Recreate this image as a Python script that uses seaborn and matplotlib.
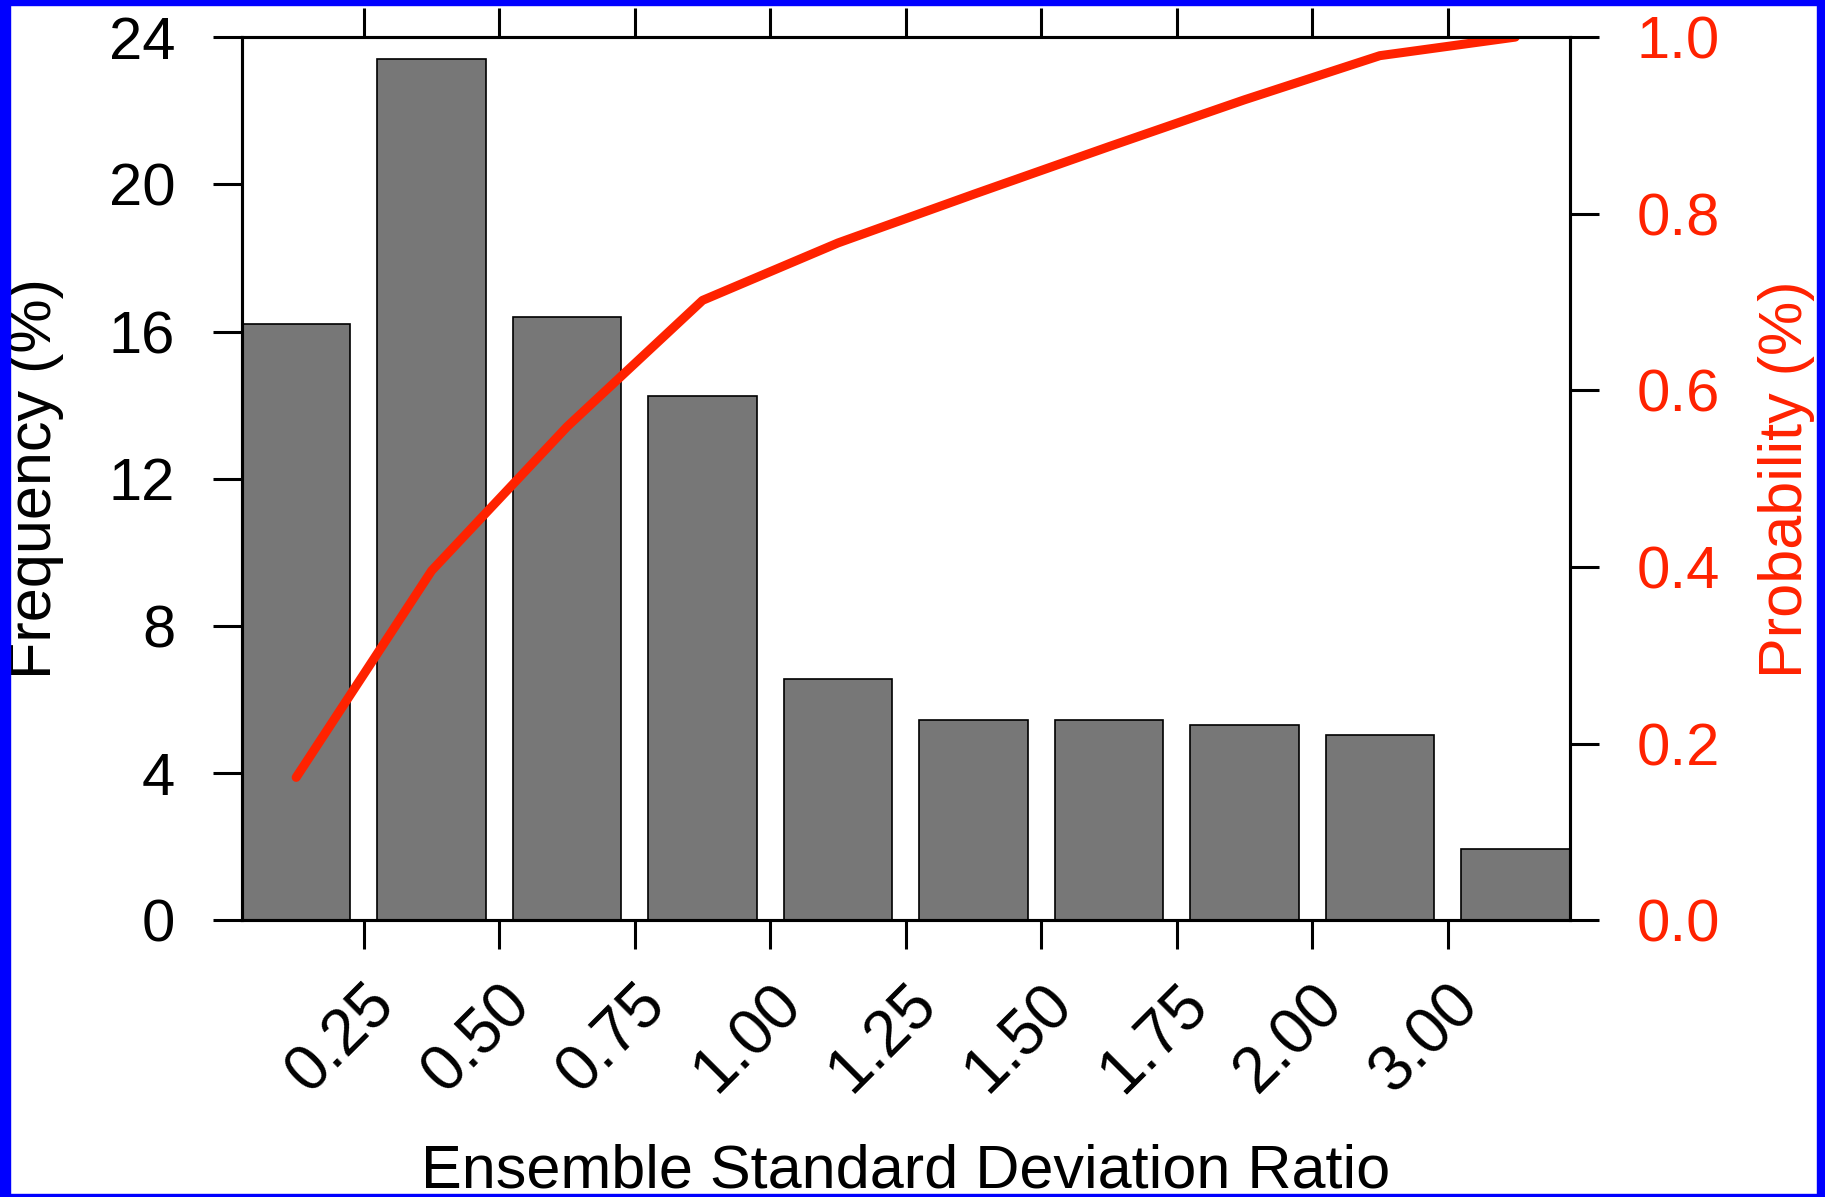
import numpy as np
import pandas as pd
import matplotlib
matplotlib.use("Agg")
import matplotlib.pyplot as plt
from matplotlib.patches import Rectangle
import seaborn as sns

# bins of the ensemble standard deviation ratio
bins = ["<0.25", "0.25-0.50", "0.50-0.75", "0.75-1.00", "1.00-1.25",
        "1.25-1.50", "1.50-1.75", "1.75-2.00", "2.00-3.00", ">3.00"]
frequency = [16.2, 23.4, 16.4, 14.25, 6.55, 5.45, 5.45, 5.32, 5.03, 1.93]
probability = [0.162, 0.396, 0.559, 0.702, 0.767, 0.822, 0.876, 0.929, 0.979, 1.0]
tick_labels = ["0.25", "0.50", "0.75", "1.00", "1.25", "1.50", "1.75", "2.00", "3.00"]

df = pd.DataFrame({"bin": bins, "freq": frequency, "prob": probability})
df["pos"] = np.arange(len(df))

sns.set_style("ticks")
plt.rcParams['font.family'] = ['Liberation Sans', 'DejaVu Sans']
plt.rcParams['text.color'] = 'black'
plt.rcParams['xtick.color'] = 'black'
plt.rcParams['ytick.color'] = 'black'
plt.rcParams['axes.labelcolor'] = 'black'

red = "#ff2200"
fs = 43

fig = plt.figure(figsize=(18.25, 11.97), dpi=100)
ax = fig.add_axes([0.1326, 0.231, 0.860 - 0.1326, 0.969 - 0.231])

sns.barplot(data=df, x="bin", y="freq", color="#777777", saturation=1,
            edgecolor="black", linewidth=1.2, width=0.8, ax=ax)

ax2 = ax.twinx()
sns.lineplot(data=df, x="pos", y="prob", color=red, linewidth=6.5,
             solid_capstyle="round", ax=ax2)

ax.set_xlim(-0.4, 9.4)
ax.set_ylim(0, 24)
ax2.set_ylim(0, 1.0)
ax2.set_xlim(-0.4, 9.4)

ax.set_yticks(np.arange(0, 25, 4))
ax2.set_yticks(np.arange(0, 1.01, 0.2))
ax2.set_yticklabels([f"{v:.1f}" for v in np.arange(0, 1.01, 0.2)])

ax.set_xticks(np.arange(len(tick_labels)) + 0.5)
ax.set_xticklabels(tick_labels, rotation=45, ha="right", va="top",
                   rotation_mode="anchor")

for s in list(ax.spines.values()) + list(ax2.spines.values()):
    s.set_linewidth(2.2)
    s.set_color("black")

ax.tick_params(axis="x", which="both", direction="out", length=21, width=2.2,
               top=True, bottom=True, labelsize=fs + 3, pad=17)
ax.tick_params(axis="y", direction="out", length=21, width=2.2,
               labelsize=fs, pad=27)
ax2.tick_params(axis="y", direction="out", length=21, width=2.2,
                labelsize=fs, labelcolor=red, pad=27)

ax.set_xlabel("Ensemble Standard Deviation Ratio", fontsize=fs + 1)
ax.set_ylabel("Frequency (%)", fontsize=fs + 1)
ax2.set_ylabel("Probability (%)", fontsize=fs + 1, color=red)
ax.xaxis.set_label_coords(0.5, -0.252)
ax.yaxis.set_label_coords(-0.134, 0.5)
ax2.yaxis.set_label_coords(1.142, 0.5)

# blue frame around the figure
for r in [(0, 0, 0.0055, 1), (0, 0, 1, 0.0025), (0, 0.996, 1, 0.004), (0.9955, 0, 0.0045, 1)]:
    fig.add_artist(Rectangle((r[0], r[1]), r[2], r[3], transform=fig.transFigure,
                             color="#0000ff", zorder=10))

plt.savefig("out.png", dpi=100)
